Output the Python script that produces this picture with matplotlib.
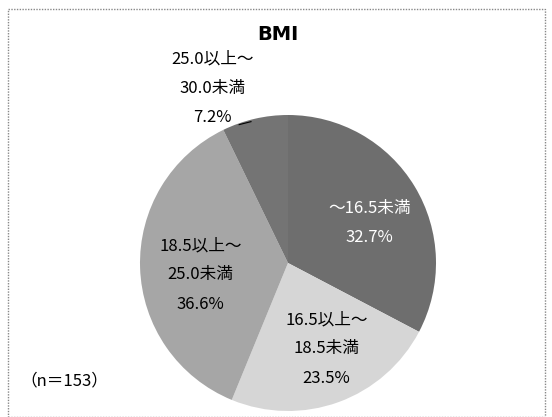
import matplotlib
matplotlib.use('Agg')
import matplotlib.pyplot as plt
from matplotlib.patches import Rectangle

plt.rcParams['font.family'] = ['Noto Sans CJK JP', 'DejaVu Sans']

# -----------------------
# Data
# -----------------------
categories = ['～16.5未満', '16.5以上～\n18.5未満', '18.5以上～\n25.0未満', '25.0以上～\n30.0未満']
shares = [32.7, 23.5, 36.6, 7.2]
colors = ['#6e6e6e', '#d6d6d6', '#a6a6a6', '#747474']
text_colors = ['white', 'black', 'black', 'black']
label_pos = [(0.55, 0.27), (0.26, -0.58), (-0.59, -0.08), (-0.51, 1.18)]
n_total = 153

W, H = 552, 417
fig = plt.figure(figsize=(W / 100, H / 100), dpi=100)

# frame
fig.patches.append(Rectangle((8 / W, 0.0), 537 / W, 1 - 8 / H - 0.002, transform=fig.transFigure,
                             fill=False, edgecolor='#888888', linewidth=1.0, linestyle=(0, (1, 1))))

# pie axes: centre (288, 263) px, radius 148 px
cx, cy, r = 288, 263, 148
ax = fig.add_axes([(cx - r) / W, 1 - (cy + r) / H, 2 * r / W, 2 * r / H])
wedges, _ = ax.pie(shares, colors=colors, startangle=90, counterclock=False,
                   wedgeprops=dict(edgecolor='none'))
ax.set_xlim(-1, 1)
ax.set_ylim(-1, 1)
ax.set_aspect('equal')
ax.axis('off')

for cat, val, (x, y), tc in zip(categories, shares, label_pos, text_colors):
    ax.text(x, y, f'{cat}\n{val:.1f}%', ha='center', va='center', fontsize=12,
            color=tc, linespacing=1.95, clip_on=False)

# leader line for the small slice
ax.plot([-0.33, -0.25], [0.935, 0.955], color='black', lw=0.8, clip_on=False)

fig.text(278 / W, 1 - 34 / H, 'BMI', ha='center', va='center', fontsize=14,
         fontweight='bold', family='DejaVu Sans')
fig.text(20 / W, 1 - 381 / H, f'（n＝{n_total}）', ha='left', va='center', fontsize=12)

fig.savefig('out.png', dpi=100)
